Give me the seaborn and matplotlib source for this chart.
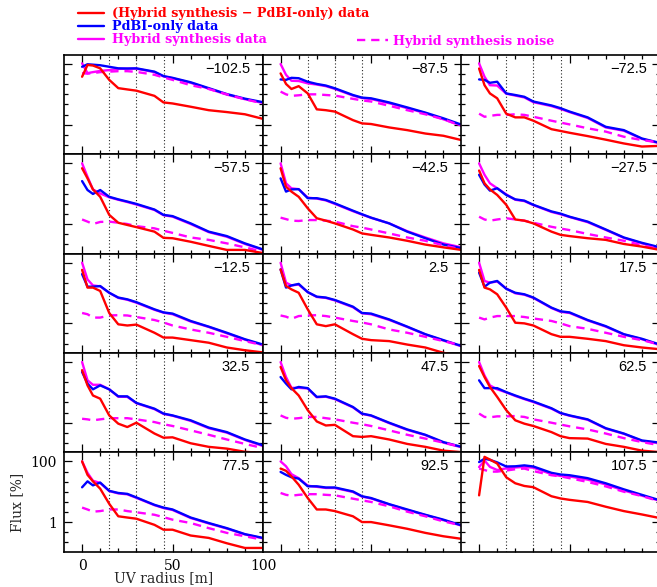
import matplotlib
matplotlib.use("Agg")
import matplotlib.pyplot as plt
import seaborn as sns
from matplotlib.ticker import FixedLocator, FixedFormatter, NullFormatter
from matplotlib.lines import Line2D

# ---------------- data ----------------
velocities = [-102.5, -87.5, -72.5, -57.5, -42.5, -27.5, -12.5, 2.5, 17.5,
              32.5, 47.5, 62.5, 77.5, 92.5, 107.5]

uv_radius = [0, 3, 6, 10, 15, 20, 25, 30, 40, 45, 50, 60, 70, 80, 90, 100]

# (Hybrid synthesis - PdBI-only) data  [%]
diff_flux = [
    [38, 93, 89, 72, 30, 16, 14.5, 13.2, 8.9, 5.4, 5.0, 3.9, 3.0, 2.6, 2.2, 1.55],
    [49, 22, 15, 18.6, 10.7, 3.2, 3.0, 2.7, 1.41, 1.10, 1.05, 0.81, 0.66, 0.51, 0.43, 0.31],
    [71, 20, 10.7, 7.4, 2.3, 1.74, 1.74, 1.35, 0.71, 0.62, 0.54, 0.42, 0.32, 0.24, 0.19, 0.2],
    [69, 32, 13.8, 7.9, 2.0, 1.10, 0.93, 0.79, 0.56, 0.35, 0.34, 0.26, 0.19, 0.14, 0.14, 0.11],
    [69, 17, 11.7, 7.9, 3.3, 1.55, 1.29, 1.05, 0.66, 0.49, 0.44, 0.36, 0.28, 0.21, 0.17, 0.14],
    [58, 22, 13.8, 9.1, 4.3, 1.41, 1.29, 1.05, 0.56, 0.44, 0.40, 0.34, 0.30, 0.22, 0.18, 0.14],
    [58, 15.1, 15.1, 11.7, 2.2, 0.93, 0.85, 0.91, 0.49, 0.34, 0.34, 0.28, 0.23, 0.16, 0.13, 0.11],
    [60, 17, 13.2, 10.2, 2.9, 0.93, 0.81, 0.93, 0.44, 0.31, 0.28, 0.26, 0.20, 0.16, 0.107, 0.083],
    [58, 15.1, 13.2, 9.1, 3.3, 1.05, 1.0, 0.85, 0.44, 0.36, 0.36, 0.31, 0.26, 0.19, 0.16, 0.14],
    [54, 17, 7.9, 6.2, 1.74, 0.93, 0.72, 1.0, 0.44, 0.32, 0.33, 0.21, 0.16, 0.14, 0.11, 0.10],
    [69, 25, 13.8, 7.9, 2.6, 1.1, 0.81, 0.85, 0.36, 0.34, 0.36, 0.28, 0.20, 0.16, 0.12, 0.107],
    [74, 32, 15.1, 7.1, 2.6, 1.2, 0.93, 0.78, 0.49, 0.36, 0.31, 0.30, 0.20, 0.16, 0.12, 0.107],
    [100, 36, 22, 12.6, 4.0, 1.55, 1.41, 1.29, 0.81, 0.56, 0.56, 0.36, 0.30, 0.20, 0.14, 0.14],
    [58, 49, 32, 17, 6.2, 2.6, 2.6, 2.3, 1.55, 1.0, 1.0, 0.78, 0.60, 0.44, 0.34, 0.28],
    [7.6, 141, 115, 85, 30, 19, 15.5, 14.1, 7.1, 6.0, 5.4, 4.6, 3.2, 2.3, 1.78, 1.35],
]

# PdBI-only data [%]
pdbi_flux = [
    [81, 98, 95, 91, 81, 72, 71, 72, 56, 40, 35, 25, 16, 10.2, 7.2, 5.5],
    [31, 30, 35, 34, 26, 22, 19.5, 15.8, 9.5, 7.8, 7.4, 5.4, 3.7, 2.5, 1.62, 1.0],
    [31, 30, 24, 26, 10.7, 9.5, 8.3, 5.8, 4.3, 3.5, 2.7, 1.74, 0.85, 0.66, 0.35, 0.25],
    [26, 13.2, 9.8, 13.2, 7.9, 6.5, 5.5, 4.6, 3.0, 2.0, 1.82, 1.05, 0.56, 0.40, 0.23, 0.145],
    [32, 11.7, 13.8, 14.1, 7.1, 7.1, 6.2, 4.8, 2.75, 2.1, 1.62, 1.05, 0.56, 0.34, 0.21, 0.16],
    [42, 20, 12.6, 15.1, 9.1, 6.5, 5.9, 4.3, 2.6, 2.2, 1.74, 1.2, 0.66, 0.36, 0.24, 0.17],
    [42, 16.2, 16.2, 17, 10.2, 7.1, 6.2, 5.0, 2.9, 2.3, 2.1, 1.2, 0.78, 0.49, 0.30, 0.20],
    [60, 15.1, 17.8, 20, 10.7, 7.6, 7.1, 5.9, 3.55, 2.2, 2.1, 1.35, 0.78, 0.44, 0.28, 0.18],
    [47, 16.2, 22, 25, 13.8, 10.2, 9.1, 7.1, 3.3, 2.5, 2.3, 1.29, 0.81, 0.44, 0.31, 0.20],
    [47, 19.5, 12.6, 17, 12.6, 7.4, 7.4, 4.5, 2.9, 2.0, 1.74, 1.2, 0.69, 0.49, 0.28, 0.18],
    [32, 19.5, 12.6, 15.1, 13.8, 7.1, 7.4, 6.2, 3.3, 2.0, 1.74, 1.0, 0.60, 0.40, 0.23, 0.16],
    [25, 13.8, 13.8, 13.8, 10.2, 7.9, 6.2, 5.0, 3.0, 2.1, 1.74, 1.29, 0.66, 0.44, 0.26, 0.22],
    [14, 22, 16.2, 20, 10.7, 9.1, 8.5, 6.5, 3.7, 3.0, 2.6, 1.41, 0.93, 0.63, 0.40, 0.30],
    [45, 36, 30, 27, 15.1, 15.1, 13.8, 13.8, 10.2, 7.1, 6.2, 3.9, 2.6, 1.74, 1.2, 0.78],
    [95, 123, 112, 93, 68, 69, 74, 68, 42, 37, 35, 28, 19, 12, 7.9, 5.2],
]

# Hybrid synthesis data [%]
hybrid_flux = [
    [105, 50, 54, 59, 63, 69, 70, 70, 54, 39, 34, 24, 15.3, 9.8, 6.9, 5.2],
    [100, 44, 28, 27.5, 23, 21, 18.6, 15.1, 9.1, 7.5, 7.0, 5.1, 3.5, 2.4, 1.5, 0.93],
    [105, 38, 20, 19.5, 10.5, 9.1, 7.9, 5.5, 4.1, 3.3, 2.6, 1.66, 0.81, 0.63, 0.34, 0.24],
    [100, 36, 13.8, 10.2, 7.6, 6.3, 5.3, 4.4, 2.9, 1.95, 1.75, 1.0, 0.54, 0.38, 0.22, 0.14],
    [100, 22, 15, 14.1, 7.4, 6.9, 6.0, 4.6, 2.65, 2.05, 1.6, 1.05, 0.58, 0.36, 0.23, 0.17],
    [100, 42, 22, 15.1, 9.5, 6.3, 5.7, 4.2, 2.5, 2.1, 1.7, 1.15, 0.64, 0.35, 0.23, 0.16],
    [100, 28, 17.8, 16.6, 10.2, 6.9, 6.0, 4.8, 2.8, 2.25, 2.0, 1.15, 0.76, 0.47, 0.29, 0.19],
    [100, 22, 17.8, 19, 10.7, 7.4, 6.9, 5.7, 3.4, 2.15, 2.0, 1.3, 0.76, 0.43, 0.27, 0.175],
    [100, 25, 22, 24, 14.1, 9.8, 8.8, 6.9, 3.2, 2.4, 2.2, 1.25, 0.78, 0.43, 0.30, 0.19],
    [100, 25, 17.8, 17.8, 12.6, 7.2, 7.1, 4.4, 2.8, 1.95, 1.7, 1.15, 0.66, 0.47, 0.27, 0.17],
    [100, 32, 14.1, 14.1, 13.5, 6.9, 7.2, 6.0, 3.2, 1.95, 1.7, 0.97, 0.58, 0.39, 0.22, 0.155],
    [100, 36, 17, 12.6, 10.0, 7.6, 6.0, 4.8, 2.9, 2.05, 1.7, 1.25, 0.64, 0.43, 0.25, 0.21],
    [100, 42, 23, 19.5, 10.5, 8.8, 8.2, 6.3, 3.6, 2.9, 2.5, 1.36, 0.9, 0.61, 0.39, 0.29],
    [100, 69, 38, 28, 15.8, 14.5, 13.3, 13.3, 9.8, 6.9, 6.0, 3.8, 2.5, 1.7, 1.15, 0.76],
    [65, 107, 66, 52, 59, 63, 66, 62, 38, 33, 32, 25, 17.4, 11, 7.4, 5.0],
]

# Hybrid synthesis noise [%]
noise_flux = [
    [50, 48, 50, 54, 56, 58, 58, 55, 44, 36, 30, 20, 15, 10, 6.9, 5.0],
    [12.3, 10, 8.9, 9.3, 10, 10, 9.5, 9.1, 7.1, 6.3, 5.8, 4.2, 3.0, 2.2, 1.51, 0.91],
    [2.3, 1.82, 1.95, 2.1, 2.1, 2.2, 2.1, 1.82, 1.35, 1.17, 1.02, 0.76, 0.59, 0.40, 0.31, 0.26],
    [1.41, 1.2, 1.0, 1.17, 1.2, 1.1, 1.0, 0.85, 0.72, 0.60, 0.51, 0.36, 0.30, 0.23, 0.17, 0.12],
    [1.62, 1.45, 1.29, 1.26, 1.35, 1.35, 1.29, 1.2, 0.85, 0.76, 0.66, 0.49, 0.36, 0.28, 0.20, 0.145],
    [1.74, 1.41, 1.29, 1.41, 1.55, 1.41, 1.29, 1.1, 0.81, 0.71, 0.63, 0.47, 0.36, 0.28, 0.20, 0.15],
    [2.2, 2.0, 1.55, 1.55, 1.82, 1.86, 1.82, 1.62, 1.29, 1.07, 0.85, 0.63, 0.49, 0.36, 0.26, 0.19],
    [1.82, 1.66, 1.41, 1.74, 1.82, 1.86, 1.74, 1.55, 1.2, 1.07, 0.93, 0.63, 0.49, 0.36, 0.26, 0.19],
    [1.55, 1.35, 1.55, 1.74, 1.74, 1.74, 1.62, 1.45, 1.2, 1.0, 0.81, 0.66, 0.49, 0.36, 0.28, 0.20],
    [1.35, 1.29, 1.2, 1.29, 1.41, 1.41, 1.41, 1.29, 1.05, 0.89, 0.78, 0.56, 0.40, 0.28, 0.20, 0.145],
    [1.74, 1.45, 1.35, 1.41, 1.55, 1.55, 1.41, 1.29, 1.0, 0.89, 0.78, 0.56, 0.40, 0.30, 0.22, 0.16],
    [2.0, 1.55, 1.51, 1.62, 1.62, 1.66, 1.55, 1.29, 1.0, 0.87, 0.76, 0.60, 0.44, 0.31, 0.23, 0.18],
    [3.0, 2.6, 2.2, 2.3, 2.6, 2.6, 2.3, 2.1, 1.74, 1.45, 1.2, 0.93, 0.63, 0.44, 0.34, 0.26],
    [9.1, 7.9, 7.4, 7.9, 8.3, 8.3, 7.9, 7.6, 5.9, 5.2, 4.6, 3.3, 2.2, 1.55, 1.05, 0.78],
    [58, 52, 46, 46, 50, 55, 58, 48, 35, 32, 28, 21, 15, 10, 7.2, 4.8],
]

marker_radii = [15, 30, 45]          # dotted vertical lines
x_major = [0, 50, 100]
x_minor = [10, 20, 30, 40, 60, 70, 80, 90]
y_major = [1, 100]
y_major_labels = ["1", "100"]
y_minor = [0.2154, 0.4642, 2.154, 4.642, 10, 21.54, 46.42]

legend_labels = ["(Hybrid synthesis \u2212 PdBI-only) data", "PdBI-only data",
                 "Hybrid synthesis data", "Hybrid synthesis noise"]

RED, BLUE, MAG = "#ff0000", "#0000ff", "#ff00ff"

# ---------------- figure ----------------
sns.set_theme(style="ticks")
plt.rcParams["font.family"] = ["DejaVu Serif"]
plt.rcParams["axes.linewidth"] = 1.2

W, H = 657, 587
fig = plt.figure(figsize=(W / 100, H / 100), dpi=100)

col_left = [64, 262.5, 461]
col_w = 199
top0, row_h = 55, 99.35

LW = 1.7
for i, vel in enumerate(velocities):
    r, c = divmod(i, 3)
    top = top0 + r * row_h
    ax = fig.add_axes([col_left[c] / W, 1 - (top + row_h) / H, col_w / W, row_h / H])
    ax.set_yscale("log")
    for xv in marker_radii:
        ax.axvline(xv, color="#222222", lw=0.8, ls=(0, (1, 2)), zorder=1)
    sns.lineplot(x=uv_radius, y=hybrid_flux[i], ax=ax, color=MAG, lw=LW, zorder=2)
    sns.lineplot(x=uv_radius, y=pdbi_flux[i], ax=ax, color=BLUE, lw=LW, zorder=3)
    sns.lineplot(x=uv_radius, y=noise_flux[i], ax=ax, color=MAG, lw=LW,
                 linestyle=(0, (3.5, 2.5)), zorder=4)
    sns.lineplot(x=uv_radius, y=diff_flux[i], ax=ax, color=RED, lw=LW, zorder=5)

    ax.set_xlim(-10, 100)
    ax.set_ylim(0.105, 198)
    ax.xaxis.set_major_locator(FixedLocator(x_major))
    ax.xaxis.set_minor_locator(FixedLocator(x_minor))
    ax.yaxis.set_major_locator(FixedLocator(y_major))
    ax.yaxis.set_minor_locator(FixedLocator(y_minor))
    ax.yaxis.set_minor_formatter(NullFormatter())
    ax.yaxis.set_major_formatter(FixedFormatter(y_major_labels))
    ax.tick_params(which="both", direction="in", top=True, right=True,
                   labelbottom=False, labelleft=False, colors="black",
                   labelsize=10, pad=5)
    ax.tick_params(which="major", length=5.5, width=0.9)
    ax.tick_params(which="minor", length=3, width=0.9)
    for s in ax.spines.values():
        s.set_color("black")
    ax.set_xlabel("")
    ax.set_ylabel("")

    lab = f"{vel:.1f}".replace("-", "\u2212")
    ax.text(1 - 13 / col_w, 1 - 14 / row_h, lab, transform=ax.transAxes,
            ha="right", va="center", fontsize=10.5, family="Liberation Sans",
            color="black")

    if r == 4 and c == 0:
        ax.tick_params(which="major", labelbottom=True, labelleft=True)
        ax.set_xlabel("UV radius [m]", fontsize=10, labelpad=-1)
        ax.set_ylabel("Flux [%]", fontsize=10, labelpad=5)

# ---------------- legend ----------------
prop = {"family": "DejaVu Serif", "weight": "bold", "size": 9.2}
h_main = [Line2D([], [], color=RED, lw=LW), Line2D([], [], color=BLUE, lw=LW),
          Line2D([], [], color=MAG, lw=LW)]
leg1 = fig.legend(h_main, legend_labels[:3], loc="upper left",
                  bbox_to_anchor=(78 / W, 1 - 7 / H), frameon=False,
                  borderpad=0, borderaxespad=0, handlelength=2.0,
                  handletextpad=0.7, labelspacing=0.0, prop=prop)
for t, col in zip(leg1.get_texts(), [RED, BLUE, MAG]):
    t.set_color(col)
h_noise = [Line2D([], [], color=MAG, lw=LW, ls=(0, (3.5, 2.5)))]
leg2 = fig.legend(h_noise, legend_labels[3:], loc="upper left",
                  bbox_to_anchor=(357 / W, 1 - 34.5 / H), frameon=False,
                  borderpad=0, borderaxespad=0, handlelength=2.4,
                  handletextpad=0.45, prop=prop)
for t in leg2.get_texts():
    t.set_color(MAG)

fig.savefig("out.png", dpi=100)
